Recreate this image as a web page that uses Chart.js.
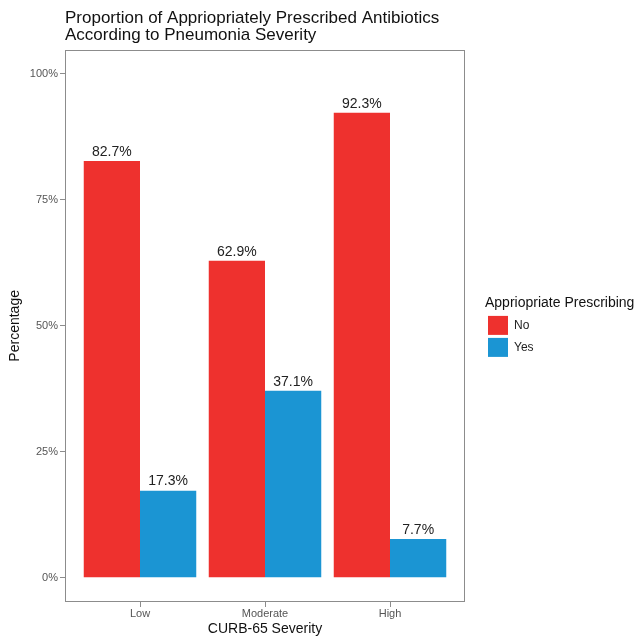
<!DOCTYPE html>
<html>
<head>
<meta charset="utf-8">
<script src="https://cdn.jsdelivr.net/npm/chart.js@4"></script>
<style>
  html, body { margin: 0; padding: 0; background: #fff; }
  #wrap { width: 636px; height: 636px; }
</style>
</head>
<body>
<div id="wrap"><canvas id="myChart" width="636" height="636"></canvas></div>
<script>
// data
var categories = ['Low', 'Moderate', 'High'];
var noValues = [82.7, 62.9, 92.3];
var yesValues = [17.3, 37.1, 7.7];
var seriesNames = ['No', 'Yes'];
var yTicks = [0, 25, 50, 75, 100];

var RED = '#ee312e';
var BLUE = '#1b95d3';
var FONT = '"Liberation Sans", Arial, sans-serif';

function toPoints(values) {
  return values.map(function (v, i) { return { x: i + 1, y: v }; });
}

// grey frame round the plot panel
var panelBorder = {
  id: 'panelBorder',
  afterDraw: function (chart) {
    var a = chart.chartArea, ctx = chart.ctx;
    ctx.save();
    ctx.strokeStyle = '#8c8c8c';
    ctx.lineWidth = 1;
    ctx.strokeRect(Math.round(a.left) + 0.5, Math.round(a.top) + 0.5,
      Math.round(a.right - a.left) - 1, Math.round(a.bottom - a.top) - 1);
    ctx.restore();
  }
};

// percent labels on top of each bar
var barLabels = {
  id: 'barLabels',
  afterDatasetsDraw: function (chart) {
    var ctx = chart.ctx;
    ctx.save();
    ctx.font = '14px ' + FONT;
    ctx.fillStyle = '#222';
    ctx.textAlign = 'center';
    ctx.textBaseline = 'middle';
    chart.data.datasets.forEach(function (ds, di) {
      chart.getDatasetMeta(di).data.forEach(function (bar, i) {
        ctx.fillText(ds.data[i].y.toFixed(1) + '%', bar.x, bar.y - 9);
      });
    });
    ctx.restore();
  }
};

// legend box wide enough for its title (ggplot style guide on the right)
var legendWidth = {
  id: 'legendWidth',
  beforeLayout: function (chart) {
    var lg = chart.legend;
    if (lg && !lg._wideFit) {
      var fit = lg.fit;
      lg.fit = function () { fit.call(this); this.width = 151; };
      lg._wideFit = true;
    }
  }
};

var ctx = document.getElementById('myChart').getContext('2d');
var myChart = new Chart(ctx, {
  type: 'bar',
  data: {
    datasets: [
      { label: seriesNames[0], data: toPoints(noValues), backgroundColor: RED, borderWidth: 0 },
      { label: seriesNames[1], data: toPoints(yesValues), backgroundColor: BLUE, borderWidth: 0 }
    ]
  },
  options: {
    responsive: false,
    animation: false,
    categoryPercentage: 0.9,
    barPercentage: 1.0,
    layout: { padding: 0 },
    scales: {
      x: {
        type: 'linear',
        offset: false,
        min: 0.4,
        max: 3.6,
        afterBuildTicks: function (axis) {
          axis.ticks = categories.map(function (c, i) { return { value: i + 1 }; });
        },
        afterFit: function (scale) { scale.height = 34; },
        ticks: {
          color: '#555',
          font: { family: FONT, size: 11 },
          padding: 0,
          maxRotation: 0,
          callback: function (v) { return categories[v - 1]; }
        },
        grid: { drawOnChartArea: false, drawTicks: true, tickLength: 5, color: '#8c8c8c', offset: false },
        border: { display: false },
        title: {
          display: true,
          text: 'CURB-65 Severity',
          color: '#111',
          font: { family: FONT, size: 14 },
          padding: { top: 0, bottom: -2 }
        }
      },
      y: {
        min: -4.8,
        max: 104.8,
        afterBuildTicks: function (axis) {
          axis.ticks = yTicks.map(function (t) { return { value: t }; });
        },
        afterFit: function (scale) { scale.width = 65; },
        ticks: {
          color: '#555',
          font: { family: FONT, size: 11 },
          padding: 2,
          callback: function (v) { return v + '%'; }
        },
        grid: { drawOnChartArea: false, drawTicks: true, tickLength: 5, color: '#8c8c8c' },
        border: { display: false },
        title: {
          display: true,
          text: 'Percentage',
          color: '#111',
          font: { family: FONT, size: 14 },
          padding: { top: 7, bottom: 0 }
        }
      },
      gap: {
        position: 'right',
        display: true,
        ticks: { display: false },
        grid: { display: false },
        border: { display: false },
        afterFit: function (scale) { scale.width = 20; }
      }
    },
    plugins: {
      tooltip: { enabled: false },
      title: {
        display: true,
        fullSize: false,
        align: 'start',
        text: ['Proportion of Appriopriately Prescribed Antibiotics', 'According to Pneumonia Severity'],
        color: '#111',
        font: { family: FONT, size: 17, weight: 'normal', lineHeight: 1.05 },
        padding: { top: 9, bottom: 5 }
      },
      legend: {
        position: 'right',
        align: 'center',
        title: {
          display: true,
          text: 'Appriopriate Prescribing',
          position: 'start',
          color: '#111',
          font: { family: FONT, size: 14 },
          padding: { top: 20, bottom: 0 }
        },
        labels: {
          boxWidth: 20,
          boxHeight: 19,
          padding: 3,
          color: '#222',
          font: { family: FONT, size: 12 }
        }
      }
    }
  },
  plugins: [legendWidth, panelBorder, barLabels]
});
</script>
</body>
</html>
